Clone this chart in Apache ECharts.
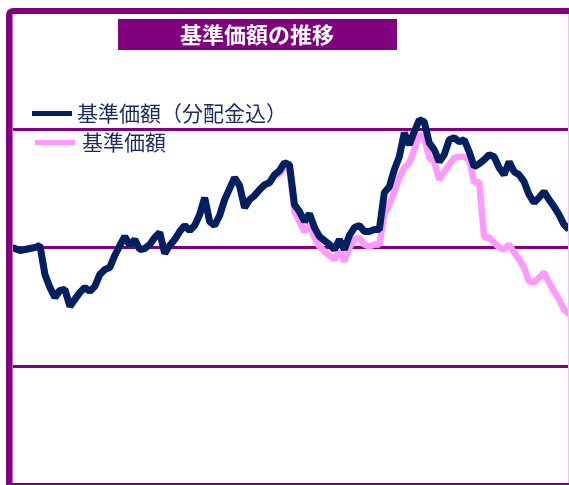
<!DOCTYPE html>
<html>
<head>
<meta charset="utf-8">
<script src="https://cdn.jsdelivr.net/npm/echarts@6/dist/echarts.min.js"></script>
<style>
html,body{margin:0;padding:0;background:#fff;}
#c{width:569px;height:485px;}
</style>
</head>
<body>
<div id="c"></div>
<script>
// Title and legend names
var titleText = '基準価額の推移';
var nameTotal = '基準価額（分配金込）';
var nameNav = '基準価額';

// Y axis ticks (gridlines)
var yMin = 8000, yMax = 16000, yStep = 2000;

// Series: NAV including reinvested distributions (navy)
var navTotal = [
  12000,11983,11950,11966,11983,12000,12034,11546,11328,11160,
  11278,11294,11009,11126,11244,11328,11261,11345,11546,11630,
  11664,11866,12034,12185,12034,12134,11966,11983,12050,12168,
  12252,11899,12034,12134,12269,12370,12286,12370,12554,12840,
  12437,12370,12538,12806,12991,13176,13042,12672,12806,12874,
  12974,13058,13092,13226,13294,13428,13394,12722,12605,12437,
  12571,12336,12185,12118,12050,11966,12134,11966,12202,12336,
  12370,12269,12269,12302,12302,12924,13025,13310,13529,13932,
  13730,13949,14150,14117,13764,13646,13445,13562,13814,13848,
  13781,13814,13613,13361,13411,13478,13562,13529,13344,13226,
  13445,13277,13226,13109,12890,12756,12840,12941,12806,12689,
  12554,12386,12302
];

// Series: NAV (pink)
var nav = [
  12000,11983,11950,11966,11983,12000,12034,11546,11328,11160,
  11278,11294,11009,11126,11244,11328,11261,11345,11546,11630,
  11664,11866,12034,12185,12034,12134,11966,11983,12050,12168,
  12252,11899,12034,12134,12269,12370,12286,12370,12554,12840,
  12437,12370,12538,12806,12991,13176,13042,12672,12806,12874,
  12974,13058,13092,13200,13243,13344,13310,12605,12437,12269,
  12386,12168,12017,11933,11866,11798,11966,11765,12000,12134,
  12168,12050,12017,12050,12050,12554,12722,12941,13176,13344,
  13428,13646,13898,13848,13512,13445,13142,13277,13394,13512,
  13529,13529,13478,13092,13109,12168,12168,12084,12000,11966,
  12050,11916,11798,11664,11429,11412,11496,11580,11412,11261,
  11126,10958,10874
];

// Categories (weekly observation index)
var categories = [];
for (var i = 0; i < navTotal.length; i++) categories.push('W' + (i + 1));

var purple = '#800080';
var navy = '#002060';
var pink = '#FF99FF';

var chart = echarts.init(document.getElementById('c'));
chart.setOption({
  animation: false,
  backgroundColor: '#ffffff',
  grid: { left: 10, right: 0, top: 10, bottom: -1, containLabel: false },
  xAxis: {
    type: 'category', data: categories, boundaryGap: false,
    axisLine: { show: false }, axisTick: { show: false }, axisLabel: { show: false },
    splitLine: { show: false }
  },
  yAxis: {
    type: 'value', min: yMin, max: yMax, interval: yStep,
    axisLine: { show: false }, axisTick: { show: false }, axisLabel: { show: false },
    splitLine: { show: true, lineStyle: { color: purple, width: 3 } }
  },
  legend: [
    {
      data: [nameTotal], left: 32, top: 103, padding: 0, icon: 'rect', itemWidth: 40, itemHeight: 5,
      textStyle: { fontSize: 21, color: '#1a2b5e', fontFamily: 'Noto Sans CJK JP' }
    },
    {
      data: [nameNav], left: 35, top: 132, padding: 0, icon: 'rect', itemWidth: 40, itemHeight: 5,
      textStyle: { fontSize: 21, color: '#1a2b5e', fontFamily: 'Noto Sans CJK JP', padding: [0,0,0,2] }
    }
  ],
  series: [
    {
      name: nameNav, type: 'line', data: nav, showSymbol: false, z: 2,
      lineStyle: { color: pink, width: 6.5 }, itemStyle: { color: pink }
    },
    {
      name: nameTotal, type: 'line', data: navTotal, showSymbol: false, z: 3,
      lineStyle: { color: navy, width: 7 }, itemStyle: { color: navy }
    }
  ],
  graphic: [
    { type: 'rect', z: 100, shape: { x: 9, y: 11, width: 620, height: 475, r: [4,0,0,0] },
      style: { fill: null, stroke: purple, lineWidth: 6 } },
    { type: 'line', z: 100, shape: { x1: 12.5, y1: 14, x2: 12.5, y2: 483 },
      style: { stroke: '#c070c0', lineWidth: 1 } },
    { type: 'line', z: 100, shape: { x1: 568.5, y1: 14, x2: 568.5, y2: 483 },
      style: { stroke: '#e8c8e8', lineWidth: 1 } },
    { type: 'rect', z: 100, shape: { x: 118, y: 19, width: 279, height: 31 },
      style: { fill: purple } },
    { type: 'text', z: 101, x: 257, y: 35,
      style: { text: titleText, fill: '#ffffff', font: 'bold 22px "Noto Sans CJK JP"',
               align: 'center', verticalAlign: 'middle' } }
  ]
});
</script>
</body>
</html>
